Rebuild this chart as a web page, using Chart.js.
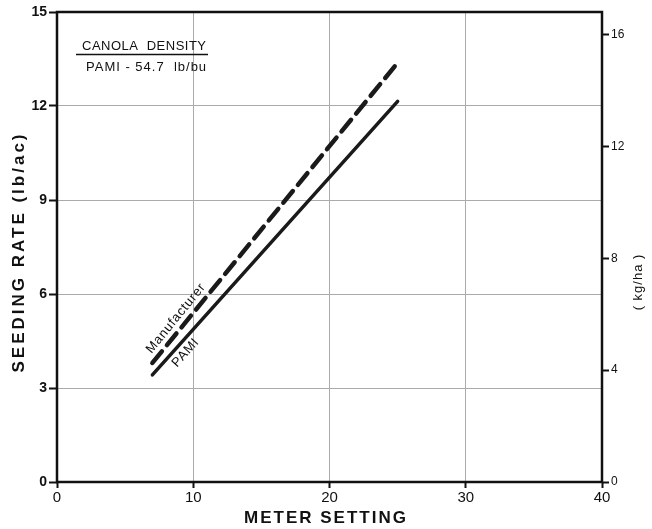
<!DOCTYPE html>
<html>
<head>
<meta charset="utf-8">
<script src="https://cdn.jsdelivr.net/npm/chart.js@4"></script>
<style>
  html, body { margin: 0; padding: 0; background: #fff; }
  #wrap { width: 652px; height: 529px; }
</style>
</head>
<body>
<div id="wrap"><canvas id="grafico"></canvas></div>
<script>
// Dados
const meterSettings = [7, 25];
const pamiRates = [3.42, 12.15];
const manufacturerRates = [3.8, 13.38];
const xTicks = [0, 10, 20, 30, 40];
const lbTicks = [0, 3, 6, 9, 12, 15];
const kgTicks = [0, 4, 8, 12, 16];
const LB_TO_KG = 1.12085;

const fonte = "'Liberation Sans', Arial, sans-serif";

// Moldura, títulos e textos do gráfico
const extras = {
  id: "extras",
  afterDraw(chart) {
    const c = chart.ctx;
    const a = chart.chartArea;
    const sx = chart.scales.x, sy = chart.scales.y;
    c.save();
    c.strokeStyle = "#111";
    c.lineWidth = 2.5;
    c.strokeRect(a.left, a.top, a.right - a.left, a.bottom - a.top);

    c.fillStyle = "#111";
    // titulo inferior
    c.font = "bold 17px " + fonte;
    c.letterSpacing = "2px";
    c.textAlign = "center";
    c.textBaseline = "middle";
    c.fillText("METER SETTING", 326, 518);
    // titulo esquerdo
    c.save();
    c.letterSpacing = "3px";
    c.translate(19, 252);
    c.rotate(-Math.PI / 2);
    c.fillText("SEEDING RATE (lb/ac)", 0, 0);
    c.restore();
    // titulo direito
    c.save();
    c.font = "13px " + fonte;
    c.letterSpacing = "1px";
    c.translate(638, 282);
    c.rotate(-Math.PI / 2);
    c.fillText("( kg/ha )", 0, 0);
    c.restore();

    // caixa de densidade
    c.font = "13px " + fonte;
    c.textAlign = "left";
    c.textBaseline = "alphabetic";
    c.letterSpacing = "0.5px";
    c.fillText("CANOLA  DENSITY", 82, 50);
    c.letterSpacing = "1px";
    c.fillText("PAMI - 54.7  lb/bu", 86, 71);
    c.lineWidth = 1.5;
    c.beginPath();
    c.moveTo(76, 54.5);
    c.lineTo(208, 54.5);
    c.stroke();

    // rótulos das linhas
    const rotulo = (xs, ys, xv, texto, desloc) => {
      const x0 = sx.getPixelForValue(xs[0]), y0 = sy.getPixelForValue(ys[0]);
      const x1 = sx.getPixelForValue(xs[1]), y1 = sy.getPixelForValue(ys[1]);
      const ang = Math.atan2(y1 - y0, x1 - x0);
      const t = (xv - xs[0]) / (xs[1] - xs[0]);
      const px = x0 + (x1 - x0) * t, py = y0 + (y1 - y0) * t;
      c.save();
      c.translate(px, py);
      c.rotate(ang);
      c.font = "13px " + fonte;
      c.letterSpacing = "0.8px";
      c.textAlign = "center";
      c.textBaseline = "middle";
      c.fillText(texto, 0, desloc);
      c.restore();
    };
    rotulo(meterSettings, manufacturerRates, 9.3, "Manufacturer", -10);
    rotulo(meterSettings, pamiRates, 8.9, "PAMI", 10);
    c.restore();
  }
};

const config = {
  type: "line",
  data: {
    datasets: [
      {
        label: "PAMI",
        data: meterSettings.map((x, i) => ({ x: x, y: pamiRates[i] })),
        borderColor: "#1a1a1a",
        borderWidth: 3.5,
        pointRadius: 0,
        borderCapStyle: "round",
        yAxisID: "y",
      },
      {
        label: "Manufacturer",
        data: meterSettings.map((x, i) => ({ x: x, y: manufacturerRates[i] })),
        borderColor: "#1a1a1a",
        borderWidth: 4.5,
        borderDash: [15, 8],
        borderCapStyle: "round",
        pointRadius: 0,
        yAxisID: "y",
      },
    ],
  },
  options: {
    responsive: true,
    maintainAspectRatio: false,
    animation: false,
    layout: { padding: { top: 12, left: 0, right: 0, bottom: 0 } },
    plugins: { legend: { display: false }, tooltip: { enabled: false } },
    scales: {
      x: {
        type: "linear",
        min: 0,
        max: 40,
        afterBuildTicks: (s) => { s.ticks = xTicks.map((v) => ({ value: v })); },
        afterFit: (s) => { s.height = 47; },
        grid: { color: "#aaa", lineWidth: 1, tickColor: "#111", tickLength: 6, tickWidth: 2 },
        border: { display: false },
        ticks: { color: "#111", font: { family: fonte, size: 15 }, padding: 1 },
      },
      y: {
        position: "left",
        min: 0,
        max: 15,
        afterBuildTicks: (s) => { s.ticks = lbTicks.map((v) => ({ value: v })); },
        afterFit: (s) => { s.width = 57; },
        grid: { color: "#aaa", lineWidth: 1, tickColor: "#111", tickLength: 8, tickWidth: 2 },
        border: { display: false },
        ticks: { color: "#111", font: { family: fonte, size: 14, weight: "bold" }, padding: 2 },
      },
      kg: {
        position: "right",
        min: 0,
        max: 15 * LB_TO_KG,
        afterBuildTicks: (s) => { s.ticks = kgTicks.map((v) => ({ value: v })); },
        afterFit: (s) => { s.width = 50; },
        grid: { drawOnChartArea: false, tickColor: "#111", tickLength: 7, tickWidth: 2 },
        border: { display: false },
        ticks: { color: "#111", font: { family: fonte, size: 12 }, padding: 2 },
      },
    },
  },
  plugins: [extras],
};

new Chart(document.getElementById("grafico").getContext("2d"), config);
</script>
</body>
</html>
